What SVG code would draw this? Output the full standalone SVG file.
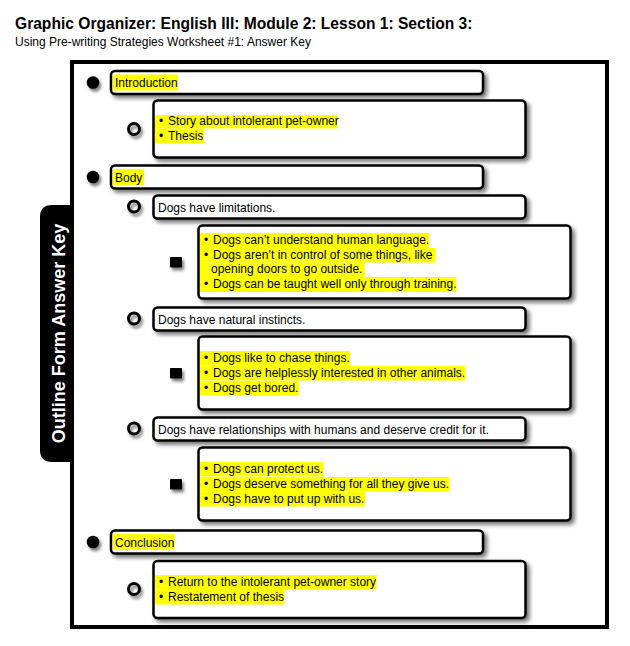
<svg xmlns="http://www.w3.org/2000/svg" width="630" height="646" viewBox="0 0 630 646">
<defs>
<filter id="sh" x="-10%" y="-30%" width="130%" height="180%">
<feGaussianBlur in="SourceAlpha" stdDeviation="2.2"/>
<feOffset dx="3" dy="3" result="b"/>
<feComponentTransfer><feFuncA type="linear" slope="0.55"/></feComponentTransfer>
<feMerge><feMergeNode/><feMergeNode in="SourceGraphic"/></feMerge>
</filter>
<filter id="shb" x="-60%" y="-60%" width="250%" height="250%">
<feGaussianBlur in="SourceAlpha" stdDeviation="1.8"/>
<feOffset dx="2" dy="3" result="b"/>
<feComponentTransfer><feFuncA type="linear" slope="0.5"/></feComponentTransfer>
<feMerge><feMergeNode/><feMergeNode in="SourceGraphic"/></feMerge>
</filter>
</defs>
<style>
.box{fill:#fff;stroke:#000;stroke-width:2.5}
.t{font-family:"Liberation Sans",Arial,sans-serif;font-size:12px;fill:#000}
.hl{fill:#ffff00}
.dot{fill:#000}
.ring{fill:none;stroke:#000;stroke-width:3}
.sq{fill:#000}
</style>
<rect width="630" height="646" fill="#fff"/>
<g id="title">
<text x="15" y="29" font-family="Liberation Sans,Arial,sans-serif" font-size="15.6" font-weight="bold">Graphic Organizer: English III: Module 2: Lesson 1: Section 3:</text>
<text x="15" y="46" font-family="Liberation Sans,Arial,sans-serif" font-size="12">Using Pre-writing Strategies Worksheet #1: Answer Key</text>
</g>
<g id="frame">
<rect x="72" y="62" width="535" height="565" fill="none" stroke="#000" stroke-width="4"/>
</g>
<g id="tab">
<path d="M72 205 L52 205 Q40 205 40 217 L40 450 Q40 462 52 462 L72 462 Z" fill="#000"/>
<text transform="translate(64.5 333.5) rotate(-90)" text-anchor="middle" font-family="Liberation Sans,Arial,sans-serif" font-size="18" font-weight="bold" fill="#fff">Outline Form Answer Key</text>
</g>
<g id="connectors"/>

<g id="n-intro">
<circle class="dot" cx="93" cy="82.5" r="6.3" filter="url(#shb)"/>
<rect class="box" x="111" y="71" width="372" height="23" rx="4" filter="url(#sh)"/>
<rect class="hl" x="113" y="74.5" width="65" height="16"/>
<text class="t" x="115" y="87">Introduction</text>
</g>
<g id="n-intro-sub">
<circle class="ring" cx="134" cy="129" r="5.5" filter="url(#shb)"/>
<rect class="box" x="153.5" y="100.5" width="372" height="57" rx="4" filter="url(#sh)"/>
<rect class="hl" x="155" y="115" width="182.5" height="13.5"/>
<rect class="hl" x="155" y="128.5" width="49" height="15"/>
<text class="t" x="159" y="125">•</text><text class="t" x="168" y="125">Story about intolerant pet-owner</text>
<text class="t" x="159" y="140">•</text><text class="t" x="168" y="140">Thesis</text>
</g>

<g id="n-body">
<circle class="dot" cx="93" cy="177" r="6.3" filter="url(#shb)"/>
<rect class="box" x="111" y="165.5" width="372" height="23" rx="4" filter="url(#sh)"/>
<rect class="hl" x="113" y="169" width="31" height="16"/>
<text class="t" x="115" y="181.5">Body</text>
</g>
<g id="n-lim">
<circle class="ring" cx="134" cy="206.5" r="5.5" filter="url(#shb)"/>
<rect class="box" x="153.5" y="195.5" width="372" height="23" rx="4" filter="url(#sh)"/>
<text class="t" x="158" y="211.5">Dogs have limitations.</text>
</g>
<g id="n-lim-sub">
<rect class="sq" x="170" y="257" width="12" height="10.5" rx="1" filter="url(#shb)"/>
<rect class="box" x="198.5" y="225.5" width="372" height="73" rx="4" filter="url(#sh)"/>
<rect class="hl" x="200" y="233" width="229" height="15"/>
<rect class="hl" x="200" y="248" width="235.5" height="14.5"/>
<rect class="hl" x="200" y="262.5" width="164.5" height="14.5"/>
<rect class="hl" x="200" y="277" width="256.5" height="15"/>
<text class="t" x="204" y="244">•</text><text class="t" x="213" y="244">Dogs can’t understand human language.</text>
<text class="t" x="204" y="258.5">•</text><text class="t" x="213" y="258.5">Dogs aren’t in control of some things, like </text>
<text class="t" x="211" y="273">opening doors to go outside.</text>
<text class="t" x="204" y="287.5">•</text><text class="t" x="213" y="287.5">Dogs can be taught well only through training.</text>
</g>
<g id="n-inst">
<circle class="ring" cx="134" cy="318.5" r="5.5" filter="url(#shb)"/>
<rect class="box" x="153.5" y="307.5" width="372" height="23" rx="4" filter="url(#sh)"/>
<text class="t" x="158" y="323.5">Dogs have natural instincts.</text>
</g>
<g id="n-inst-sub">
<rect class="sq" x="170" y="368" width="12" height="10.5" rx="1" filter="url(#shb)"/>
<rect class="box" x="198.5" y="336.5" width="372" height="73" rx="4" filter="url(#sh)"/>
<rect class="hl" x="200" y="351" width="150" height="14.5"/>
<rect class="hl" x="200" y="366" width="265.5" height="14.5"/>
<rect class="hl" x="200" y="381" width="99" height="14.5"/>
<text class="t" x="204" y="362">•</text><text class="t" x="213" y="362">Dogs like to chase things.</text>
<text class="t" x="204" y="377">•</text><text class="t" x="213" y="377">Dogs are helplessly interested in other animals.</text>
<text class="t" x="204" y="391.5">•</text><text class="t" x="213" y="391.5">Dogs get bored.</text>
</g>
<g id="n-rel">
<circle class="ring" cx="134" cy="428.5" r="5.5" filter="url(#shb)"/>
<rect class="box" x="153.5" y="417.5" width="372" height="23" rx="4" filter="url(#sh)"/>
<text class="t" x="158" y="433.5">Dogs have relationships with humans and deserve credit for it.</text>
</g>
<g id="n-rel-sub">
<rect class="sq" x="170" y="479" width="12" height="10.5" rx="1" filter="url(#shb)"/>
<rect class="box" x="198.5" y="447.5" width="372" height="73" rx="4" filter="url(#sh)"/>
<rect class="hl" x="200" y="462" width="123.5" height="14.5"/>
<rect class="hl" x="200" y="477" width="249.5" height="14.5"/>
<rect class="hl" x="200" y="492" width="165" height="14.5"/>
<text class="t" x="204" y="473">•</text><text class="t" x="213" y="473">Dogs can protect us.</text>
<text class="t" x="204" y="488">•</text><text class="t" x="213" y="488">Dogs deserve something for all they give us.</text>
<text class="t" x="204" y="502.5">•</text><text class="t" x="213" y="502.5">Dogs have to put up with us.</text>
</g>

<g id="n-concl">
<circle class="dot" cx="93" cy="542" r="6.3" filter="url(#shb)"/>
<rect class="box" x="111" y="530.5" width="372" height="23" rx="4" filter="url(#sh)"/>
<rect class="hl" x="113" y="534" width="61.5" height="16"/>
<text class="t" x="115" y="546.5">Conclusion</text>
</g>
<g id="n-concl-sub">
<circle class="ring" cx="134" cy="589" r="5.5" filter="url(#shb)"/>
<rect class="box" x="153.5" y="561" width="372" height="57" rx="4" filter="url(#sh)"/>
<rect class="hl" x="155" y="575" width="221.5" height="14.5"/>
<rect class="hl" x="155" y="589.5" width="129.5" height="15"/>
<text class="t" x="159" y="585.5">•</text><text class="t" x="168" y="585.5">Return to the intolerant pet-owner story</text>
<text class="t" x="159" y="600.5">•</text><text class="t" x="168" y="600.5">Restatement of thesis</text>
</g>
</svg>
